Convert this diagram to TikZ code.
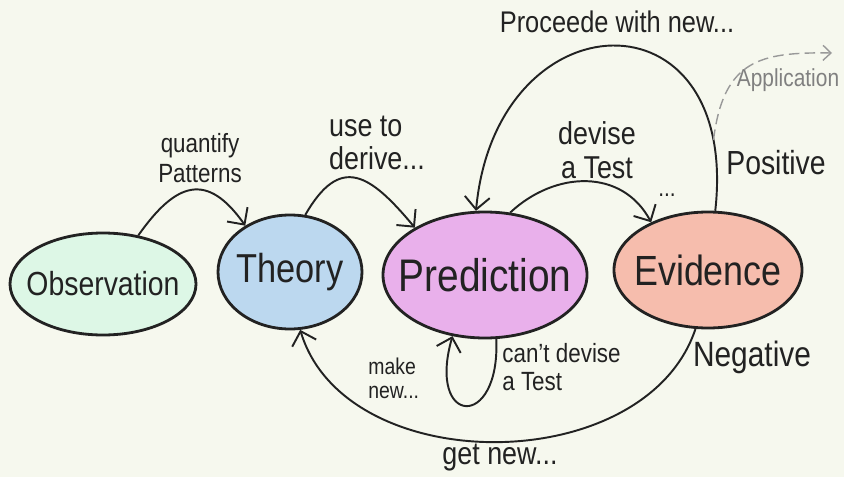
\documentclass[tikz,border=0pt]{standalone}
\usepackage{fontspec}
\setmainfont[FakeStretch=0.85]{Liberation Sans}
\usetikzlibrary{arrows.meta,shapes.geometric}
\definecolor{obsfill}{HTML}{DDF7E6}
\definecolor{theofill}{HTML}{BCD8EF}
\definecolor{predfill}{HTML}{E9B0EB}
\definecolor{evidfill}{HTML}{F6BDAD}
\definecolor{paper}{HTML}{F6F8EE}
\definecolor{ink}{HTML}{222222}

\begin{document}
\begin{tikzpicture}[
  x=0.2mm, y=-0.2mm,
  stage/.style={ellipse, draw=ink, line width=1.6pt, inner sep=0pt},
  link/.style={-{Straight Barb[length=2.5mm,width=5mm]}, line width=1.1pt, draw=ink},
  appl/.style={-{Straight Barb[length=1.6mm,width=3mm]}, line width=0.8pt, draw=gray!80, dash pattern=on 6pt off 3pt},
  lbl/.style={text=ink, inner sep=0pt},
]
% paper
\fill[paper] (0,0) rectangle (844,477);
\useasboundingbox (0,0) rectangle (844,477);

% Stages
\node[stage, fill=obsfill, minimum width=3.72cm, minimum height=2.04cm,
  label={[lbl, font=\fontsize{19}{22}\selectfont]center:Observation}] (obs) at (103,284) {};
\node[stage, fill=theofill, minimum width=2.88cm, minimum height=2.28cm,
  label={[lbl, font=\fontsize{23}{26}\selectfont]center:Theory}] (theory) at (290,272) {};
\node[stage, fill=predfill, minimum width=4.08cm, minimum height=2.52cm,
  label={[lbl, font=\fontsize{26}{30}\selectfont]center:Prediction}] (pred) at (485,275) {};
\node[stage, fill=evidfill, minimum width=3.76cm, minimum height=2.32cm,
  label={[lbl, font=\fontsize{24}{28}\selectfont]center:Evidence}] (evid) at (708,270) {};

% Labels
\node[lbl, align=center, font=\fontsize{15}{17}\selectfont] (quant) at (200,158) {quantify\\Patterns};
\node[lbl, align=left, font=\fontsize{18}{19}\selectfont] (derive) at (377,143) {use to\\derive...};
\node[lbl, align=center, font=\fontsize{18}{19}\selectfont] (devise) at (597,150) {devise\\a Test};
\node[lbl, font=\fontsize{14}{16}\selectfont] (dots) at (667,195) {...};
\node[lbl, font=\fontsize{17}{19}\selectfont] (proceed) at (617,22) {Proceede with new...};
\node[lbl, text=gray, font=\fontsize{14}{16}\selectfont] (applic) at (788,80) {Application};
\node[lbl, font=\fontsize{19}{21}\selectfont] (pos) at (776,163) {Positive};
\node[lbl, font=\fontsize{20}{22}\selectfont] (neg) at (752,357) {Negative};
\node[lbl, align=left, anchor=west, font=\fontsize{15}{15.5}\selectfont] (cant) at (502,367) {can't devise\\a Test};
\node[lbl, align=left, anchor=west, font=\fontsize{13}{13.5}\selectfont] (mknew) at (368,378) {make\\new...};
\node[lbl, font=\fontsize{18}{20}\selectfont] (getnew) at (500,458) {get new...};

% Arrows
\draw[link] (obs.54) .. controls +(38,-54) and +(-38,-54) .. (theory.134);
\draw[link] (theory.75) .. controls +(35,-61) and +(-45,-54) .. (pred.146);
\draw[link] (pred.68) .. controls +(45,-42) and +(-29,-54) .. (evid.140);
\draw[link] (evid.83) .. controls +(25,-225) and +(20,-215) .. (pred.98) coordinate[pos=0.12] (fork);
\draw[link] (pred.280) .. controls +(4,92) and +(-26,90) .. (pred.242);
\draw[link] (evid.258) .. controls +(-50,150) and +(45,150) .. (theory.280);

% Application
\coordinate (applend) at (832,53);
\draw[appl] (fork) .. controls +(10,-80) and +(-72,-1) .. (applend);
\end{tikzpicture}
\end{document}
